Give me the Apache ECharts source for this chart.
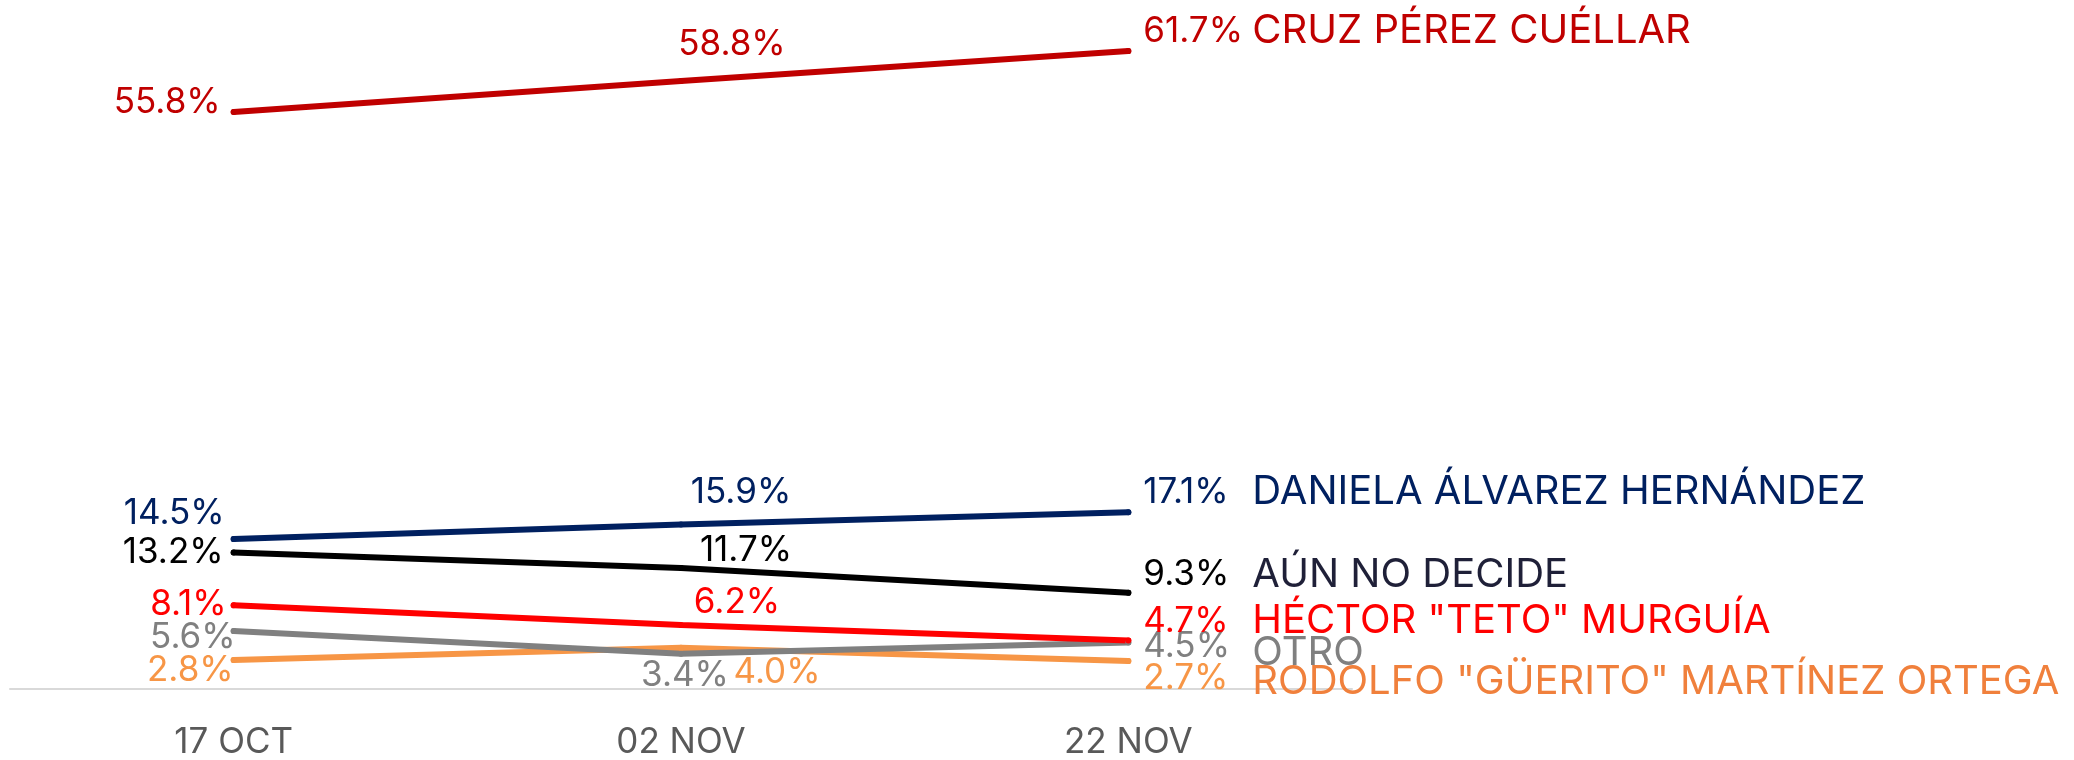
<!doctype html>
<html>
<head>
    <meta charset="utf-8">
    <title>encuesta</title>
    <style type="text/css">
        body, html {
            width: 100%;
            height: 100%;
            margin: 0;
            padding: 0;
            background: #fff;
        }
    </style>
    <script src="https://fastly.jsdelivr.net/npm/echarts@6/dist/echarts.min.js"></script>
</head>
<body>
<div id="container" style="width: 2074px; height: 760px"></div>
<script type="text/javascript">
    // fechas de corte
    const categories = ['17 OCT', '02 NOV', '22 NOV'];

    // porcentajes por candidato
    const cruz = [55.8, 58.8, 61.7];
    const daniela = [14.5, 15.9, 17.1];
    const aunNoDecide = [13.2, 11.7, 9.3];
    const hector = [8.1, 6.2, 4.7];
    const otro = [5.6, 3.4, 4.5];
    const rodolfo = [2.8, 4.0, 2.7];

    const FONT = 'Inter, "Noto Sans", sans-serif';

    // estilo y posicion de etiquetas (no son datos)
    const looks = [
        {name: 'RODOLFO "GÜERITO" MARTÍNEZ ORTEGA', data: rodolfo, color: '#F79646', text: '#F79646', nameColor: '#F0803C',
            first: [3, 10], mid: [96, 25], end: 17, nameDy: 4},
        {name: 'OTRO', data: otro, color: '#808080', text: '#808080', nameColor: '#808080',
            first: [5, 6], mid: [4, 22], end: 4, nameDy: 6},
        {name: 'HÉCTOR "TETO" MURGUÍA', data: hector, color: '#FF0000', text: '#FF0000', nameColor: '#FF0000',
            first: [-4, -1], mid: [56, -22], end: -19, nameDy: 0},
        {name: 'AÚN NO DECIDE', data: aunNoDecide, color: '#000000', text: '#000000', nameColor: '#1F2038',
            first: [-7, 0], mid: [65, -18], end: -18, nameDy: 0},
        {name: 'DANIELA ÁLVAREZ HERNÁNDEZ', data: daniela, color: '#002060', text: '#002060', nameColor: '#002060',
            first: [-6, -26], mid: [60, -32], end: -20, nameDy: 0},
        {name: 'CRUZ PÉREZ CUÉLLAR', data: cruz, color: '#C00000', text: '#C00000', nameColor: '#C00000',
            first: [-10, -10], mid: [51, -37], end: -20, nameDy: 0}
    ];

    const dom = document.getElementById('container');
    const myChart = echarts.init(dom, null, {renderer: 'canvas'});

    const series = looks.map(function (s) {
        return {
            name: s.name,
            type: 'line',
            data: s.data.map(function (v, i) {
                let label;
                if (i === 0) {
                    label = {show: true, position: 'left', distance: 0, offset: s.first};
                } else if (i === 1) {
                    label = {show: true, position: 'inside', offset: s.mid};
                } else {
                    label = {show: false};
                }
                return {value: v, label: label};
            }),
            symbol: 'circle',
            symbolSize: 6,
            itemStyle: {color: s.color},
            lineStyle: {color: s.color, width: 6, cap: 'round'},
            label: {
                color: s.text,
                fontSize: 35,
                fontFamily: FONT,
                formatter: function (p) {
                    return p.value.toFixed(1) + '%';
                }
            },
            endLabel: {
                show: true,
                distance: 15,
                offset: [0, s.end],
                formatter: function (p) {
                    return '{v|' + p.value.toFixed(1) + '%}{n|' + p.seriesName + '}';
                },
                rich: {
                    v: {width: 109, fontSize: 35, fontFamily: FONT, color: s.text},
                    n: {fontSize: 40, fontFamily: FONT, color: s.nameColor, padding: [s.nameDy * 2, 0, 0, 0]}
                }
            },
            emphasis: {disabled: true}
        };
    });

    const option = {
        animation: false,
        grid: {left: 10, right: 722, top: 17, bottom: 69},
        xAxis: {
            type: 'category',
            boundaryGap: true,
            data: categories,
            axisLine: {lineStyle: {color: '#D9D9D9', width: 2}},
            axisTick: {show: false},
            axisLabel: {color: '#595959', fontSize: 35, fontFamily: FONT, margin: 36}
        },
        yAxis: {
            type: 'value',
            min: 0,
            max: 65,
            show: false,
            splitLine: {show: false}
        },
        series: series
    };

    myChart.setOption(option);
    window.addEventListener('resize', myChart.resize);
</script>
</body>
</html>
